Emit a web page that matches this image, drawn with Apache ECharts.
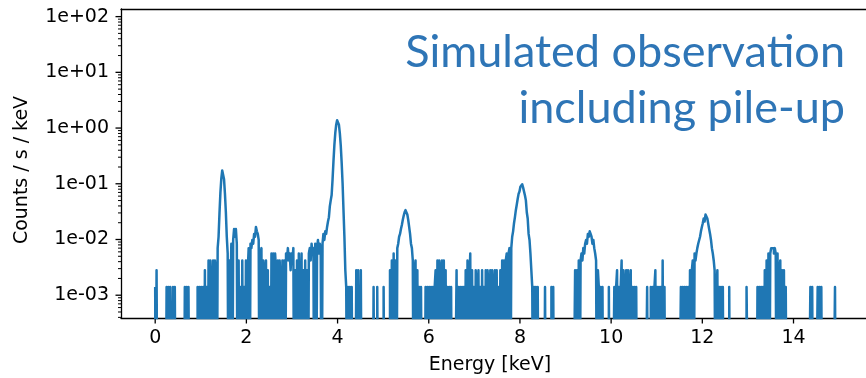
<!DOCTYPE html>
<html>
<head>
<meta charset="utf-8">
<script src="https://cdn.jsdelivr.net/npm/echarts@6/dist/echarts.min.js"></script>
<style>
  html, body { margin: 0; padding: 0; background: #fff; }
  #chart { width: 866px; height: 378px; }
</style>
</head>
<body>
<div id="chart"></div>
<script>
// one bin = 0.02 keV, values are detected counts per bin
const BIN_WIDTH = 0.02;
const COUNT_RATE = 0.0014;   // counts/s/keV for one count in a bin
const ZERO_FLOOR = 1e-6;     // empty bins drop below the axis like the log plot does

const countsKeV0 = [1,0,2,0,0, 0,0,0,0,0, 0,0,0,1,0, 1,0,1,1,0, 1,0,1,0,0, 0,0,0,0,0, 0,0,0,1,0, 1,0,1,0,0, 0,0,0,0,0, 0,0,1,0,1];
const countsKeV1 = [0,1,0,1,0, 2,0,1,0,3, 0,3,1,0,3, 0,3,2,0,5, 8,21,49,88,124, 121,86,47,22,8, 4,0,3,0.7,6, 0,7,11,8,11, 6,0,3,0,1, 0,3,0,1,0];
const countsKeV2 = [3,0,2,5,0, 6,5,7,6,9, 8,12,10,9,7, 0,4,5,0,3, 0,2,3,0,2, 0,1,0,4,0, 4,0,4,2,0, 3,0,3,1,0, 3,0,3,0,4, 3,5,3,4,2];
const countsKeV3 = [4,3,5,0,2, 0,3,0,4,1, 0,4,0,2,0, 3,0,2,0,4, 5,3,6,4,5, 0,6,0,5,7, 4,6,5,0,6, 9,7,10,9,12, 15,18,28,36,45, 85,180,352,585,820];
const countsKeV4 = [985,980,818,574,345, 169,73,24,8,2, 1,0,1,0,1, 0,1,0,0,0, 0,2,0,2,0, 0,2,0,0,0, 0,0,0,0,0, 0,0,0,0,0, 1,0,0,0,1, 0,0,0,0,0];
const countsKeV5 = [0,1,0,0,0, 0,0,0,2,0, 3,0,4,0,3, 0,5,6,8,9, 11,13,16,19,22, 24,23,20,16,12, 9,6,5,3,0, 2,3,0,2,0, 1,0,1,0,0, 0,0,1,0,1];
const countsKeV6 = [0,1,0,1,0, 1,0,1,2,0, 3,0,3,2,0, 3,0,3,0,2, 0,1,0,1,0, 1,0,0,0,0, 0,2,0,1,0, 1,0,1,0,1, 0,2,0,3,0, 1,4,0,2,0];
const countsKeV7 = [1,0,2,0,1, 2,0,1,0,2, 0,1,0,2,0, 2,1,0,2,0, 2,0,1,2,0, 2,0,1,0,2, 0,3,0,3,0, 3,4,0,4,5, 0,5,8,10,14, 18,24,30,38,47];
const countsKeV8 = [52,63,66,70,61, 57,44,36,22,17, 9,7,4,2,1, 0,1,0,1,0, 1,0,0,0,0, 0,0,0,1,0, 0,0,0,0,0, 1,0,1,0,0, 0,0,0,0,0, 0,0,0,0,0];
const countsKeV9 = [0,0,0,0,0, 0,0,0,0,0, 0,2,0,2,0, 3,0,3,4,3, 5,4,6,7,6, 9,8,10,9,8, 6,7,5,4,3, 0,2,1,0,1, 0,1,0,0,0, 0,0,0,1,0];
const countsKeV10 = [0,0,0,0,1, 0,1,2,0,1, 0,1,3,0,2, 0,1,2,0,2, 0,1,2,0,1, 0,1,0,1,0, 0,0,0,0,0, 0,0,0,0,0, 1,0,0,0,1, 0,1,0,1,2];
const countsKeV11 = [0,1,0,1,0, 1,0,3,0,1, 0,0,0,0,0, 0,0,0,0,0, 0,0,0,0,0, 0,0,1,0,1, 0,1,0,1,0, 1,0,2,0,2, 3,0,4,3,4, 5,6,6,8,10];
const countsKeV12 = [12,14,17,15,20, 21,17,18,11,9, 7,5,4,3,2, 0,1,2,0,1, 0,1,0,1,0, 0,0,0,0,0, 1,0,0,0,0, 0,0,0,0,0, 0,0,0,0,0, 0,0,0,0,1];
const countsKeV13 = [1,0,0,0,0, 0,0,0,0,0, 0,1,0,1,0, 1,0,1,0,2, 0,3,0,4,0, 4,5,5,5,4, 5,4,0,4,0, 2,3,0,2,0, 2,0,1,0,0, 0,0,0,0,0];
const countsKeV14 = [0,0,0,0,0, 0,0,0,0,0, 0,0,0,0,0, 0,0,0,0,1, 0,1,0,0,0, 0,0,1,0,1, 0,1,0,0,0, 0,0,0,0,0, 0,0,0,0,0, 0,1,0,0,0];

const countBlocks = [countsKeV0, countsKeV1, countsKeV2, countsKeV3, countsKeV4,
  countsKeV5, countsKeV6, countsKeV7, countsKeV8, countsKeV9,
  countsKeV10, countsKeV11, countsKeV12, countsKeV13, countsKeV14];

const xTickValues = [0, 2, 4, 6, 8, 10, 12, 14];
const yTickValues = [1e-3, 1e-2, 1e-1, 1e0, 1e1, 1e2];

const X_MIN = -0.75, X_MAX = 15.59;
const Y_MIN = 3.9e-4, Y_MAX = 137;

let lineData = [];
countBlocks.forEach((block, k) => {
  block.forEach((c, i) => {
    let e = +(k + i * BIN_WIDTH).toFixed(2);
    lineData.push([e, c > 0 ? c * COUNT_RATE : ZERO_FLOOR]);
  });
});

// matplotlib style minor ticks on the log axis (2..9 x 10^n)
let yMinorTicks = [];
for (let p = -4; p <= 2; p++) {
  for (let m = 2; m <= 9; m++) {
    let v = m * Math.pow(10, p);
    if (v > Y_MIN && v < Y_MAX) yMinorTicks.push(v);
  }
}
let yTickMarks = yTickValues.map(v => [X_MIN, v, 5.5, 1.3])
  .concat(yMinorTicks.map(v => [X_MIN, v, 3, 1]));
let xTickMarks = xTickValues.map(v => [v, Y_MIN, 5.5, 1.3]);

const FONT = 'DejaVu Sans';

function yLabel(v) {
  let l = Math.log10(v);
  let e = Math.round(l);
  if (Math.abs(l - e) > 1e-6) return '';
  return '1e' + (e < 0 ? '-' : '+') + String(Math.abs(e)).padStart(2, '0');
}

let myChart = echarts.init(document.getElementById('chart'), null, { renderer: 'canvas' });

let option = {
  animation: false,
  grid: {
    left: 121, top: 9, right: 0, bottom: 60,
    containLabel: false,
    outerBoundsMode: 'none'
  },
  xAxis: [
    {
      type: 'value',
      min: X_MIN, max: X_MAX,
      splitNumber: 8,
      axisLine: { show: true, onZero: false, lineStyle: { color: '#000', width: 1.3 } },
      axisTick: { show: false },
      splitLine: { show: false },
      axisLabel: {
        margin: 11,
        color: '#000',
        fontFamily: FONT,
        fontSize: 19,
        formatter: v => xTickValues.indexOf(v) >= 0 ? String(v) : ''
      }
    },
    {
      type: 'value',
      position: 'top',
      min: X_MIN, max: X_MAX,
      axisLine: { show: true, onZero: false, lineStyle: { color: '#000', width: 1.3 } },
      axisTick: { show: false },
      axisLabel: { show: false },
      splitLine: { show: false }
    }
  ],
  yAxis: {
    type: 'log',
    logBase: 10,
    min: Y_MIN, max: Y_MAX,
    axisLine: { show: true, onZero: false, lineStyle: { color: '#000', width: 1.3 } },
    axisTick: { show: false },
    minorTick: { show: false },
    splitLine: { show: false },
    axisLabel: {
      margin: 12,
      color: '#000',
      fontFamily: FONT,
      fontSize: 19,
      formatter: yLabel
    }
  },
  series: [
    {
      type: 'line',
      data: lineData,
      step: 'middle',
      showSymbol: false,
      symbol: 'none',
      clip: true,
      lineStyle: { color: '#1f77b4', width: 2.5, join: 'round' },
      silent: true
    },
    {
      type: 'custom',
      data: yTickMarks,
      clip: false,
      silent: true,
      renderItem: function (params, api) {
        let p = api.coord([api.value(0), api.value(1)]);
        let len = api.value(2);
        return {
          type: 'line',
          shape: { x1: p[0] - len, y1: p[1], x2: p[0], y2: p[1] },
          style: { stroke: '#000', lineWidth: api.value(3) }
        };
      }
    },
    {
      type: 'custom',
      data: xTickMarks,
      clip: false,
      silent: true,
      renderItem: function (params, api) {
        let p = api.coord([api.value(0), api.value(1)]);
        let len = api.value(2);
        return {
          type: 'line',
          shape: { x1: p[0], y1: p[1], x2: p[0], y2: p[1] + len },
          style: { stroke: '#000', lineWidth: api.value(3) }
        };
      }
    }
  ],
  graphic: [
    {
      type: 'text', x: 490, y: 365,
      style: { text: 'Energy [keV]', font: '19px "DejaVu Sans"', fill: '#000', align: 'center', verticalAlign: 'middle' }
    },
    {
      type: 'text', x: 22, y: 170, rotation: Math.PI / 2,
      style: { text: 'Counts / s / keV', font: '19px "DejaVu Sans"', fill: '#000', align: 'center', verticalAlign: 'middle' }
    },
    {
      type: 'text', x: 845, y: 52,
      style: { text: 'Simulated observation', font: '45px Lato', fill: '#2e75b6', align: 'right', verticalAlign: 'middle' }
    },
    {
      type: 'text', x: 845, y: 108,
      style: { text: 'including pile-up', font: '45px Lato', fill: '#2e75b6', align: 'right', verticalAlign: 'middle' }
    }
  ]
};
myChart.setOption(option);
</script>
</body>
</html>
